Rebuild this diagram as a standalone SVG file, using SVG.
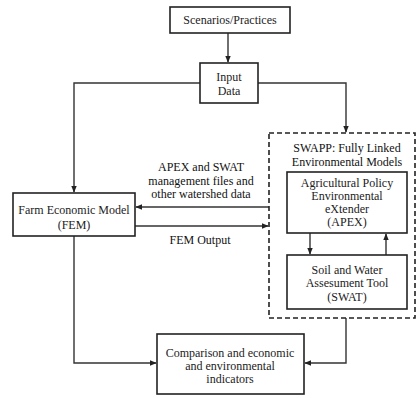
<svg xmlns="http://www.w3.org/2000/svg" width="417" height="398" viewBox="0 0 417 398">
<defs>
<style>
.box{fill:#fff;stroke:#222;stroke-width:1.6}
.dash{fill:none;stroke:#222;stroke-width:1.6;stroke-dasharray:5,3}
.ln{fill:none;stroke:#333;stroke-width:1.4}
text{font-size:12px;fill:#222;text-anchor:middle}
.lbl{fill:#111}
</style>
<marker id="ah" viewBox="0 0 10 10" refX="9" refY="5" markerWidth="7" markerHeight="7" markerUnits="userSpaceOnUse" orient="auto">
<path d="M0,1 L10,5 L0,9 z" fill="#222"/>
</marker>
</defs>
<rect width="417" height="398" fill="#fff"/>
<g font-family="'Liberation Serif', 'Times New Roman', 'DejaVu Serif', serif">
<g id="connectors">
<path class="ln" d="M228,33 V62" marker-end="url(#ah)"/>
<path class="ln" d="M200,83 H74 V192" marker-end="url(#ah)"/>
<path class="ln" d="M258,83 H346 V132" marker-end="url(#ah)"/>
<path class="ln" d="M269,207 H136" marker-end="url(#ah)"/>
<path class="ln" d="M135,226 H268" marker-end="url(#ah)"/>
<path class="ln" d="M310,233 V254" marker-end="url(#ah)"/>
<path class="ln" d="M386,255 V234" marker-end="url(#ah)"/>
<path class="ln" d="M74,236 V363 H156" marker-end="url(#ah)"/>
<path class="ln" d="M346,318 V363 H305" marker-end="url(#ah)"/>
<text class="lbl" x="201" y="171">APEX and SWAT</text>
<text class="lbl" x="201" y="185">management files and</text>
<text class="lbl" x="201" y="198">other watershed data</text>
<text class="lbl" x="200" y="244">FEM Output</text>
</g>
<g id="scenarios">
<rect class="box" x="170" y="7" width="120" height="26"/>
<text x="230" y="24">Scenarios/Practices</text>
</g>
<g id="input">
<rect class="box" x="200" y="63" width="58" height="40"/>
<text x="229" y="81">Input</text>
<text x="229" y="95">Data</text>
</g>
<g id="swapp">
<rect class="dash" x="269" y="133" width="146" height="185"/>
<text class="lbl" x="347" y="152">SWAPP: Fully Linked</text>
<text class="lbl" x="347" y="166">Environmental Models</text>
</g>
<g id="apex">
<rect class="box" x="287" y="172" width="120" height="61"/>
<text x="347" y="187">Agricultural Policy</text>
<text x="347" y="200">Environmental</text>
<text x="347" y="213">eXtender</text>
<text x="347" y="226">(APEX)</text>
</g>
<g id="swat">
<rect class="box" x="287" y="255" width="120" height="54"/>
<text x="347" y="274">Soil and Water</text>
<text x="347" y="287">Assesument Tool</text>
<text x="347" y="301">(SWAT)</text>
</g>
<g id="fem">
<rect class="box" x="13" y="193" width="122" height="43"/>
<text x="74" y="214">Farm Economic Model</text>
<text x="74" y="229">(FEM)</text>
</g>
<g id="comparison">
<rect class="box" x="157" y="334" width="147" height="60"/>
<text x="230" y="357">Comparison and economic</text>
<text x="230" y="370">and environmental</text>
<text x="230" y="383">indicators</text>
</g>
</g>
</svg>
